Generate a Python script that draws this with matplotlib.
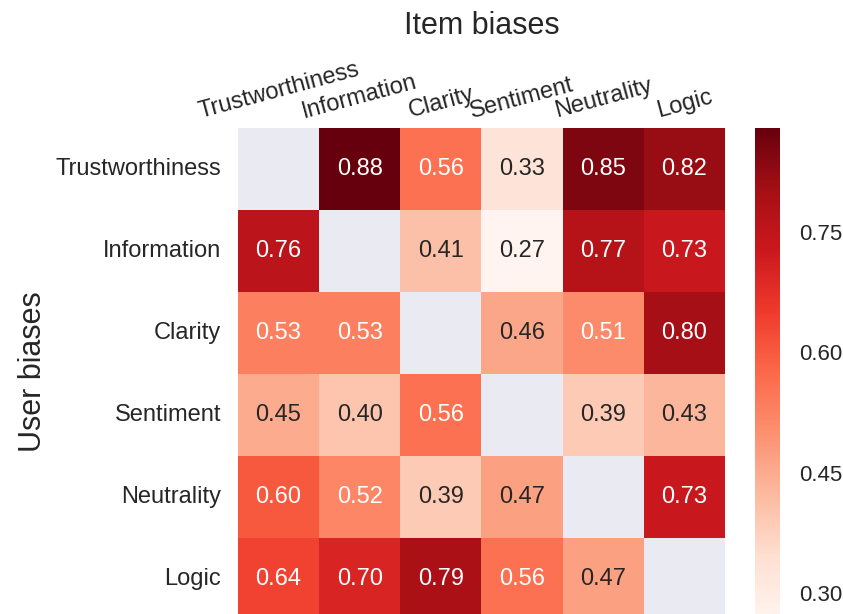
import numpy as np
import matplotlib
matplotlib.use("Agg")
import matplotlib.pyplot as plt
import seaborn as sns

item_labels = ["Trustworthiness", "Information", "Clarity", "Sentiment", "Neutrality", "Logic"]
user_labels = ["Trustworthiness", "Information", "Clarity", "Sentiment", "Neutrality", "Logic"]

row_trust = [np.nan, 0.88, 0.56, 0.33, 0.85, 0.82]
row_info = [0.76, np.nan, 0.41, 0.27, 0.77, 0.73]
row_clarity = [0.53, 0.53, np.nan, 0.46, 0.51, 0.80]
row_sentiment = [0.45, 0.40, 0.56, np.nan, 0.39, 0.43]
row_neutrality = [0.60, 0.52, 0.39, 0.47, np.nan, 0.73]
row_logic = [0.64, 0.70, 0.79, 0.56, 0.47, np.nan]

cbar_ticks = [0.30, 0.45, 0.60, 0.75]

data = np.array([row_trust, row_info, row_clarity, row_sentiment, row_neutrality, row_logic])
mask = np.isnan(data)

sns.set_style("darkgrid")
plt.rcParams['font.family'] = ['Liberation Sans', 'DejaVu Sans']

fig = plt.figure(figsize=(8.43, 6.14), dpi=100)
ax = fig.add_axes([0.2823, -0.0098, 0.5777, 0.8013])
cax = fig.add_axes([0.8956, -0.0098, 0.0297, 0.8013])

sns.heatmap(data, mask=mask, cmap="Reds", vmin=0.266, vmax=0.88, annot=True, fmt=".2f",
            annot_kws={"fontsize": 17}, ax=ax, cbar_ax=cax,
            xticklabels=item_labels, yticklabels=user_labels, linewidths=0)

ax.grid(False)
ax.xaxis.tick_top()
ax.set_xticklabels(item_labels, rotation=15, ha="center", fontsize=17, color="#262626")
ax.set_yticklabels(user_labels, rotation=0, fontsize=17, color="#262626")
ax.tick_params(axis="x", length=0, pad=4)
ax.tick_params(axis="y", length=0, pad=12)
ax.set_xlabel("")
ax.set_ylabel("")

fig.text(0.5713, 0.958, "Item biases", fontsize=22, ha="center", va="center", color="#262626")
fig.text(0.039, 0.394, "User biases", fontsize=22, ha="center", va="center",
         rotation=90, color="#262626")

cax.grid(False)
cax.set_yticks(cbar_ticks)
cax.set_yticklabels([f"{t:.2f}" for t in cbar_ticks], fontsize=16, color="#262626")
cax.tick_params(length=0, pad=14)

fig.savefig("out.png", dpi=100)
